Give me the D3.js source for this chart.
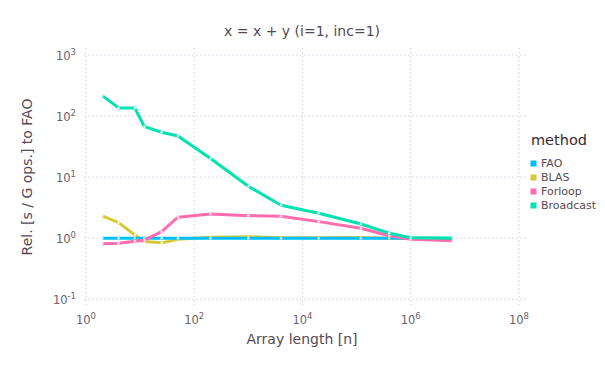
<!DOCTYPE html>
<html><head><meta charset="utf-8">
<script src="https://cdn.jsdelivr.net/npm/d3@7"></script>
<style>body{margin:0;background:#fff}text{font-family:"DejaVu Sans",sans-serif}</style>
</head><body><svg id="c" width="605" height="378"></svg>
<script>
const xs = [2, 4, 8, 12, 25, 50, 200, 1000, 4000, 20000, 120000, 400000, 1000000, 6000000];
const methods = ["FAO", "BLAS", "Forloop", "Broadcast"];
const colors = ["#00BFFF", "#D4CA3A", "#FF6DAE", "#00E3B0"];
const fao = [1, 1, 1, 1, 1, 1, 1, 1, 1, 1, 1, 1, 1, 1];
const blas = [2.32, 1.8, 1.13, 0.88, 0.84, 0.96, 1.04, 1.06, 1.02, 1.02, 1.03, 1.0, 1.0, 0.99];
const forloop = [0.81, 0.83, 0.89, 0.93, 1.28, 2.21, 2.5, 2.34, 2.29, 1.87, 1.46, 1.1, 0.96, 0.91];
const broadcast = [216, 136, 135, 67, 54.3, 47.2, 20.2, 7.1, 3.47, 2.57, 1.71, 1.21, 1.02, 1.0];
const xTicks = [1, 1e2, 1e4, 1e6, 1e8];
const yTicks = [0.1, 1, 10, 100, 1000];
const series = [fao, blas, forloop, broadcast];

const svg = d3.select("#c");
const x = d3.scaleLog().domain([1, 1e8]).range([86, 519]);
const y = d3.scaleLog().domain([0.1, 1000]).range([299.3, 55]);
const gridC = "#D0D0E0", txt = "#564A55", tick = "#6C606B";

const g = svg.append("g");
g.selectAll(".hg").data(yTicks).join("line")
  .attr("x1", 84).attr("x2", 527).attr("y1", d => y(d)).attr("y2", d => y(d))
  .attr("stroke", gridC).attr("stroke-width", 1).attr("stroke-dasharray", "1.5,2.5");
g.selectAll(".vg").data(xTicks).join("line")
  .attr("y1", 48).attr("y2", 305).attr("x1", d => x(d)).attr("x2", d => x(d))
  .attr("stroke", gridC).attr("stroke-width", 1).attr("stroke-dasharray", "1.5,2.5");

function expLabel(sel, d) {
  const e = Math.round(Math.log10(d));
  sel.append("tspan").text("10");
  sel.append("tspan").attr("dy", -5).attr("font-size", 8.5).text(String(e).replace("-", "-"));
}
yTicks.forEach(d => {
  const t = svg.append("text").attr("x", 76).attr("y", y(d) + 5).attr("text-anchor", "end")
    .attr("fill", tick).attr("font-size", 11.5);
  expLabel(t, d);
});
xTicks.forEach(d => {
  const t = svg.append("text").attr("x", x(d)).attr("y", 324).attr("text-anchor", "middle")
    .attr("fill", tick).attr("font-size", 11.5);
  expLabel(t, d);
});

const order = [1, 0, 2, 3];
const line = d3.line().x((d, i) => x(xs[i])).y(d => y(d));
order.forEach(k => {
  svg.append("path").attr("d", line(series[k])).attr("fill", "none")
    .attr("stroke", colors[k]).attr("stroke-width", 3).attr("stroke-linejoin", "round");
  svg.append("g").selectAll("circle").data(series[k]).join("circle")
    .attr("cx", (d, i) => x(xs[i])).attr("cy", d => y(d)).attr("r", 1.3)
    .attr("fill", "#fff").attr("opacity", 0.85);
});

svg.append("text").attr("x", 302).attr("y", 36).attr("text-anchor", "middle")
  .attr("fill", txt).attr("font-size", 14).text("x = x + y (i=1, inc=1)");
svg.append("text").attr("x", 302).attr("y", 344).attr("text-anchor", "middle")
  .attr("fill", txt).attr("font-size", 14).text("Array length [n]");
svg.append("text").attr("transform", "translate(32,177) rotate(-90)").attr("text-anchor", "middle")
  .attr("fill", txt).attr("font-size", 14).text("Rel. [s / G ops.] to FAO");

svg.append("text").attr("x", 531).attr("y", 145).attr("fill", "#362A35").attr("font-size", 14.5).text("method");
methods.forEach((m, i) => {
  svg.append("rect").attr("x", 530.5).attr("y", 160.5 + i * 14).attr("width", 6).attr("height", 6)
    .attr("fill", colors[i]);
  svg.append("text").attr("x", 541).attr("y", 167 + i * 14).attr("fill", txt).attr("font-size", 11)
    .text(m);
});
</script></body></html>
